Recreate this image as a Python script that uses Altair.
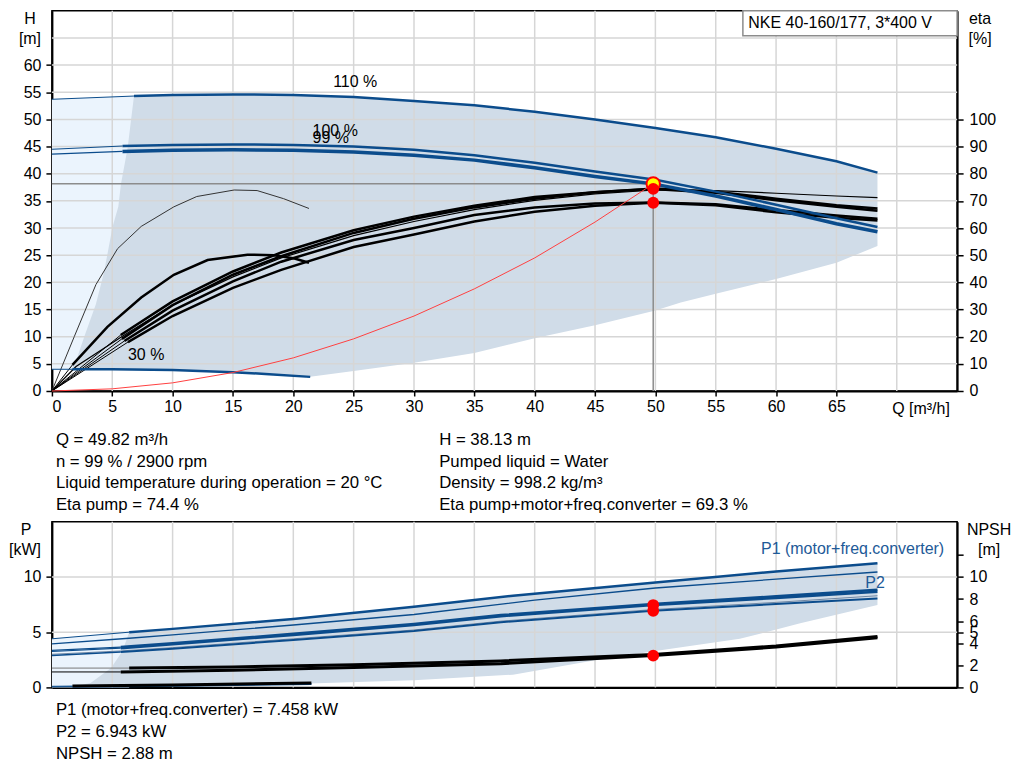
import altair as alt
import pandas as pd

# ---------------- colours / fonts ----------------
BLUE = "#0b4c8c"
GRAYAREA = "#d0dce8"
LIGHTAREA = "#ebf4fd"
GRID = "#d6d6d6"
OPLINE = "#8c8c8c"
RED = "#ff0000"
FONT = "Liberation Sans"

# ---------------- axes ----------------
X_TICKS = [0, 5, 10, 15, 20, 25, 30, 35, 40, 45, 50, 55, 60, 65]
X_GRID = [5, 10, 15, 20, 25, 30, 35, 40, 45, 50, 55, 60, 65, 70]
H_TICKS = [0, 5, 10, 15, 20, 25, 30, 35, 40, 45, 50, 55, 60]
H_GRID = [5, 10, 15, 20, 25, 30, 35, 40, 45, 50, 55, 60, 65]
ETA_TICKS = [0, 10, 20, 30, 40, 50, 60, 70, 80, 90, 100]
P_TICKS = [0, 5, 10]
P_GRID = [5, 10]
NPSH_TICKS = [0, 2, 4, 5, 6, 8, 10, 12]

# ---------------- operating point ----------------
Q_OP = 49.82
H_OP = 38.13
ETA_PUMP = 74.4
ETA_TOT = 69.3
P1_OP = 7.458
P2_OP = 6.943
NPSH_OP = 2.88

# ---------------- head curves [m] ----------------
Q_110 = [0, 6.8, 10, 15, 20, 25, 30, 35, 40, 45, 50, 55, 60, 65, 68.4]
H_110 = [53.7, 54.3, 54.5, 54.6, 54.5, 54.1, 53.4, 52.6, 51.4, 50.0, 48.4, 46.7, 44.6, 42.3, 40.2]
Q_100 = [0, 5.85, 10, 15, 20, 25, 30, 35, 40, 45, 50, 55, 60, 65, 68.4]
H_100 = [44.5, 45.1, 45.3, 45.4, 45.3, 45.0, 44.4, 43.4, 42.0, 40.4, 38.9, 36.7, 34.3, 31.8, 30.2]
Q_99 = [0, 5.85, 10, 15, 20, 25, 30, 35, 40, 45, 49.82, 55, 60, 65, 68.4]
H_99 = [43.6, 44.1, 44.3, 44.4, 44.3, 44.0, 43.4, 42.5, 41.1, 39.5, 38.13, 35.9, 33.4, 30.8, 29.3]
Q_30 = [0, 1.7, 5, 10, 15, 18, 21.4]
H_30 = [4.0, 4.0, 4.0, 3.85, 3.45, 3.1, 2.6]

# system curve
Q_SYS = [0, 5, 10, 15, 20, 25, 30, 35, 40, 45, 49.82]
H_SYS = [0, 0.4, 1.5, 3.4, 6.1, 9.6, 13.8, 18.8, 24.5, 31.1, 38.13]

# ---------------- efficiency curves [%] ----------------
Q_EA = [0, 1.85, 3.65, 5.44, 7.4, 10.1, 12, 15.1, 17, 19.2, 21.3]
E_EA = [0, 20, 39.2, 52.4, 60.6, 67.8, 71.6, 74.0, 73.8, 70.8, 67.2]
Q_EB = [0, 1.7, 4.6, 7.4, 10.1, 12.9, 16.2, 18.4, 20.1, 21.3]
E_EB = [0, 9.6, 23.6, 34.4, 42.8, 48.2, 50.2, 50.0, 48.8, 47.2]
Q_ET = [0, 2, 6, 10, 15, 19, 25, 30, 35, 40, 45, 50, 55, 60, 65, 68.4]
E_ET = [0, 9, 20.6, 31.6, 42, 49, 57.2, 62.4, 66.8, 70.2, 72.6, 74, 73.8, 72.8, 71.8, 71.2]
Q_E1 = [0, 5.7, 10, 15, 19, 25, 30, 35, 40, 45, 50, 55, 60, 65, 68.4]
E_E1 = [0, 20.6, 33, 44, 51, 59.2, 64.2, 68.2, 71.4, 73.2, 74.6, 73.4, 70.8, 68.4, 67.2]
Q_E2 = [0, 5.8, 10, 15, 19, 25, 30, 35, 40, 45, 49.82, 55, 60, 65, 68.4]
E_E2 = [0, 19.2, 31.6, 42.8, 49.6, 58.2, 63.4, 67.6, 70.8, 73.2, 74.4, 73.0, 70.2, 67.8, 66.4]
Q_E3 = [0, 6, 10, 15, 19, 25, 30, 35, 40, 45, 50, 55, 60, 65, 68.4]
E_E3 = [0, 18.4, 29.6, 40.4, 47.6, 55.6, 60, 64.8, 67.6, 69, 69.4, 68.8, 66.6, 64.6, 63.4]
Q_E4 = [0, 6.3, 10, 15, 19, 25, 30, 35, 40, 45, 49.82, 55, 60, 65, 68.4]
E_E4 = [0, 18, 27.6, 38, 44.6, 53, 57.6, 62.4, 66, 68.2, 69.3, 68.4, 65.8, 63.8, 62.8]

# ---------------- operating ranges (top) ----------------
Q_LIGHT = [0, 6.8]
HI_LIGHT = [53.7, 54.3]
LO_LIGHT = [4.0, 4.0]
Q_GRAY = [1.7, 2.13, 2.68, 3.65, 4.33, 5.03, 5.5, 5.72, 6.27, 6.8, 10, 15, 20, 21.4,
          25, 30, 35, 40, 45, 50, 52.1, 55, 60, 65, 68.4]
HI_GRAY = [4.3, 6.4, 10, 16, 22, 30.3, 33.9, 38.1, 44.7, 54.3, 54.5, 54.6, 54.5, 54.4,
           54.1, 53.4, 52.6, 51.4, 50.0, 48.4, 47.6, 46.7, 44.6, 42.3, 40.2]
LO_GRAY = [4.0, 4.0, 4.0, 4.0, 4.0, 4.0, 4.0, 4.0, 4.0, 4.0, 3.85, 3.45, 2.85, 2.6,
           3.7, 5.2, 7.0, 9.7, 12.1, 14.8, 16.3, 17.9, 20.6, 23.6, 26.7]

# ---------------- power / NPSH curves ----------------
Q_P1_110 = [0, 6.4, 10, 20, 30, 38.2, 50, 60, 68.4]
P_P1_110 = [4.4, 5.0, 5.3, 6.2, 7.3, 8.3, 9.5, 10.5, 11.25]
Q_P2_110 = [0, 6.4, 10, 20, 30, 40, 50, 60, 68.4]
P_P2_110 = [3.95, 4.45, 4.75, 5.65, 6.6, 7.9, 9.0, 9.8, 10.45]
Q_P = [0, 5.7, 10, 20, 30, 37.2, 49.82, 60, 68.4]
P_P1_100 = [3.35, 3.65, 4.0, 4.85, 5.75, 6.55, 7.55, 8.25, 8.85]
P_P1_99 = [3.25, 3.55, 3.9, 4.75, 5.65, 6.45, 7.458, 8.1, 8.65]
P_P2_100 = [3.0, 3.3, 3.6, 4.4, 5.2, 6.0, 7.05, 7.7, 8.3]
P_P2_99 = [2.9, 3.2, 3.5, 4.3, 5.1, 5.9, 6.943, 7.55, 8.05]
Q_N100 = [0, 6.4, 15, 25, 37.2, 49.82, 60, 68.4]
N_100 = [1.75, 1.75, 1.85, 2.05, 2.4, 2.98, 3.75, 4.6]
Q_N99 = [0, 5.7, 15, 25, 37.2, 49.82, 60, 68.4]
N_99 = [1.4, 1.4, 1.55, 1.8, 2.15, 2.88, 3.65, 4.5]
Q_LOW = [0, 1.7, 10, 21.5]
P_LOW_BLUE = [0.05, 0.07, 0.15, 0.3]
P_LOW_BLACK = [0.1, 0.12, 0.22, 0.4]

Q_LIGHT_B = [0, 6.4]
HI_LIGHT_B = [4.4, 5.0]
LO_LIGHT_B = [0, 0]
Q_GRAY_B = [1.7, 3.2, 4.9, 5.85, 6.4, 10, 20, 30, 38.2, 45, 50, 57, 62, 68.4]
HI_GRAY_B = [0.05, 0.4, 1.75, 3.3, 5.0, 5.3, 6.2, 7.3, 8.3, 9.0, 9.5, 10.2, 10.65, 11.25]
LO_GRAY_B = [0.0, 0.0, 0.02, 0.03, 0.04, 0.1, 0.3, 0.65, 1.15, 2.45, 3.3, 4.4, 5.8, 7.45]

# ---------------- texts ----------------
CURVE_LABELS = ["110 %", "100 %", "99 %", "30 %"]
LABEL_Q = [23.3, 21.6, 21.6, 6.3]
LABEL_H = [56.9, 47.8, 46.6, 6.7]
BOX_Q = [57.25, 75]
BOX_H = [65.4, 70]
BOX_TEXT = "NKE 40-160/177, 3*400 V"
INFO_LEFT = ["Q = 49.82 m³/h", "n = 99 % / 2900 rpm",
             "Liquid temperature during operation = 20 °C", "Eta pump = 74.4 %"]
INFO_RIGHT = ["H = 38.13 m", "Pumped liquid = Water", "Density = 998.2 kg/m³",
              "Eta pump+motor+freq.converter = 69.3 %"]
INFO_BOTTOM = ["P1 (motor+freq.converter) = 7.458 kW", "P2 = 6.943 kW", "NPSH = 2.88 m"]

W = 907
H_TOP = 381
H_BOT = 166
LAB = 16

XS = alt.Scale(domain=[0, 75], nice=False, zero=False)
HS = alt.Scale(domain=[0, 70], nice=False, zero=False)
PS = alt.Scale(domain=[0, 15], nice=False, zero=False)

TOP = dict(
    ys=HS,
    xa=alt.Axis(values=X_TICKS, title=None, tickSize=5, labelPadding=3, grid=False, labelOverlap=False),
    ya=alt.Axis(values=H_TICKS, title=None, orient="left", tickSize=6, labelPadding=5, grid=False,
                labelOverlap=False),
)
BOT = dict(
    ys=PS,
    xa=alt.Axis(labels=False, ticks=False, title=None, grid=False),
    ya=alt.Axis(values=P_TICKS, title=None, orient="left", tickSize=6, labelPadding=5, grid=False,
                labelOverlap=False),
)


def X(ctx, f="Q"):
    return alt.X(f"{f}:Q", scale=XS, axis=ctx["xa"])


def Y(ctx, f):
    return alt.Y(f"{f}:Q", scale=ctx["ys"], axis=ctx["ya"])


def area(ctx, Q, hi, lo, color):
    df = pd.DataFrame({"Q": Q, "hi": hi, "lo": lo})
    return alt.Chart(df).mark_area(color=color, opacity=1).encode(
        x=X(ctx), y=Y(ctx, "hi"), y2="lo:Q")


def line(ctx, Q, V, color, width, lo=None, hi=None, eta=False):
    df = pd.DataFrame({"Q": Q, "V": V})
    if lo is not None:
        df = df[df.Q >= lo]
    if hi is not None:
        df = df[df.Q <= hi]
    ch = alt.Chart(df)
    field = "V"
    if eta:
        ch = ch.transform_calculate(Hq="datum.V * 70 / 140")
        field = "Hq"
    return ch.mark_line(color=color, strokeWidth=width).encode(x=X(ctx), y=Y(ctx, field))


def split_line(ctx, Q, V, color, thin, thick, split, eta=False, thin_color=None):
    return [line(ctx, Q, V, thin_color or color, thin, hi=split, eta=eta),
            line(ctx, Q, V, color, thick, lo=split, eta=eta)]


def vgrid(ctx, vals):
    return alt.Chart(pd.DataFrame({"Q": vals})).mark_rule(color=GRID, strokeWidth=1.5).encode(x=X(ctx))


def hgrid(ctx, vals):
    return alt.Chart(pd.DataFrame({"V": vals})).mark_rule(color=GRID, strokeWidth=1.5).encode(y=Y(ctx, "V"))


def txt(text, x, y, size=16, align="center", color="black"):
    return alt.Chart(pd.DataFrame({"t": [text]})).mark_text(
        x=x, y=y, align=align, baseline="middle", fontSize=size, color=color, font=FONT
    ).encode(text="t:N")


# ================= top chart =================
T = TOP
top_layers = [
    area(T, Q_LIGHT, HI_LIGHT, LO_LIGHT, LIGHTAREA),
    area(T, Q_GRAY, HI_GRAY, LO_GRAY, GRAYAREA),
    vgrid(T, X_GRID),
    hgrid(T, H_GRID),
]

op_df = pd.DataFrame({"Q": [Q_OP], "H": [H_OP], "z": [0.0]})
top_layers += [
    alt.Chart(op_df).mark_rule(color=OPLINE, strokeWidth=1.5).encode(
        x=X(T, "z"), x2="Q:Q", y=Y(T, "H")),
    alt.Chart(op_df).mark_rule(color=OPLINE, strokeWidth=1.5).encode(
        x=X(T, "Q"), y=Y(T, "z"), y2="H:Q"),
]

# efficiency curves
top_layers.append(line(T, Q_EA, E_EA, "#333333", 1, eta=True))
top_layers += split_line(T, Q_EB, E_EB, "black", 1, 2.5, 1.7, eta=True)
top_layers.append(line(T, Q_ET, E_ET, "black", 1.2, eta=True))
top_layers += split_line(T, Q_E1, E_E1, "black", 1, 2.5, 5.7, eta=True)
top_layers += split_line(T, Q_E2, E_E2, "black", 1, 2.5, 5.8, eta=True)
top_layers += split_line(T, Q_E3, E_E3, "black", 1, 2.5, 6.0, eta=True)
top_layers += split_line(T, Q_E4, E_E4, "black", 1, 2.5, 6.3, eta=True)

# head curves
top_layers += split_line(T, Q_110, H_110, BLUE, 1, 2.5, 6.8)
top_layers += split_line(T, Q_100, H_100, BLUE, 1, 2.5, 5.85)
top_layers += split_line(T, Q_99, H_99, BLUE, 1.2, 3.5, 5.85)
top_layers += split_line(T, Q_30, H_30, BLUE, 1, 2.5, 1.7)

# system curve
top_layers.append(line(T, Q_SYS, H_SYS, "#ff4040", 1))

# operating points
top_layers.append(alt.Chart(op_df).mark_circle(
    fill="#ffff00", stroke=RED, strokeWidth=2, size=180, opacity=1).encode(x=X(T), y=Y(T, "H")))
eta_pts = pd.DataFrame({"Q": [Q_OP, Q_OP], "E": [ETA_PUMP, ETA_TOT]})
top_layers.append(alt.Chart(eta_pts).transform_calculate(Hq="datum.E * 70 / 140").mark_circle(
    color=RED, size=140, opacity=1).encode(x=X(T), y=Y(T, "Hq")))

# legend box
box_df = pd.DataFrame({"q1": [BOX_Q[0]], "q2": [BOX_Q[1]], "h1": [BOX_H[0]], "h2": [BOX_H[1]],
                       "t": [BOX_TEXT], "tq": [BOX_Q[0] + 0.45], "th": [(BOX_H[0] + BOX_H[1]) / 2]})
top_layers.append(alt.Chart(box_df).mark_rect(fill="white", stroke="#8c8c8c", strokeWidth=1.5).encode(
    x=X(T, "q1"), x2="q2:Q", y=Y(T, "h1"), y2="h2:Q"))
top_layers.append(alt.Chart(box_df).mark_text(align="left", baseline="middle", fontSize=16, font=FONT,
                                              color="black").encode(
    x=X(T, "tq"), y=Y(T, "th"), text="t:N"))

# curve labels
lab_df = pd.DataFrame({"Q": LABEL_Q, "H": LABEL_H, "t": CURVE_LABELS})
top_layers.append(alt.Chart(lab_df).mark_text(align="left", baseline="middle", fontSize=16, font=FONT,
                                              color="black").encode(
    x=X(T), y=Y(T, "H"), text="t:N"))

# axis titles and info texts
top_layers += [
    txt("H", -22, 8), txt("[m]", -22, 28),
    txt("eta", 930, 8), txt("[%]", 930, 28),
    txt("Q [m³/h]", 842, 399, size=16, align="left"),
]
for i, t in enumerate(INFO_LEFT):
    top_layers.append(txt(t, 4, 430 + i * 21.7, size=16.8, align="left"))
for i, t in enumerate(INFO_RIGHT):
    top_layers.append(txt(t, 388, 430 + i * 21.7, size=16.8, align="left"))

# carrier for the right-hand eta axis (a single invisible point at eta 0)
eta_axis = alt.Chart(pd.DataFrame({"E": [0]})).mark_point(opacity=0, size=1).encode(
    y=alt.Y("E:Q", scale=alt.Scale(domain=[0, 140], nice=False, zero=False),
            axis=alt.Axis(values=ETA_TICKS, title=None, orient="right", tickSize=6, labelPadding=6,
                          grid=False, labelOverlap=False)))

top = alt.layer(alt.layer(*top_layers), eta_axis).resolve_scale(y="independent").properties(
    width=W, height=H_TOP)

# ================= bottom chart =================
B = BOT
bot_layers = [
    area(B, Q_LIGHT_B, HI_LIGHT_B, LO_LIGHT_B, LIGHTAREA),
    area(B, Q_GRAY_B, HI_GRAY_B, LO_GRAY_B, GRAYAREA),
    vgrid(B, X_GRID),
    hgrid(B, P_GRID),
]
# NPSH
bot_layers += split_line(B, Q_N100, N_100, "black", 1, 3, 6.4, thin_color="#777777")
bot_layers += split_line(B, Q_N99, N_99, "black", 1, 3, 5.7)
# low speed
bot_layers += split_line(B, Q_LOW, P_LOW_BLUE, BLUE, 1, 2, 1.7)
bot_layers += split_line(B, Q_LOW, P_LOW_BLACK, "black", 1, 3, 1.7, thin_color=BLUE)
# power
bot_layers += split_line(B, Q_P1_110, P_P1_110, BLUE, 1, 2.5, 6.4)
bot_layers.append(line(B, Q_P2_110, P_P2_110, BLUE, 1.3))
bot_layers.append(line(B, Q_P, P_P2_100, "#6f87a3", 1))
bot_layers += split_line(B, Q_P, P_P2_99, BLUE, 1.5, 2, 5.7)
bot_layers += split_line(B, Q_P, P_P1_99, BLUE, 1.2, 2.5, 5.7)
bot_layers += split_line(B, Q_P, P_P1_100, BLUE, 1.2, 2.5, 5.7)

bot_pts = pd.DataFrame({"Q": [Q_OP, Q_OP, Q_OP], "V": [P1_OP, P2_OP, NPSH_OP]})
bot_layers.append(alt.Chart(bot_pts).mark_circle(color=RED, size=140, opacity=1).encode(
    x=X(B), y=Y(B, "V")))

bot_layers += [
    txt("P1 (motor+freq.converter)", 894, 27, size=16, align="right", color="#1e5a98"),
    txt("P2", 815, 61, size=16, align="left", color="#1e5a98"),
    txt("P", -26, 8), txt("[kW]", -43, 28, align="left"),
    txt("NPSH", 939, 8), txt("[m]", 939, 28),
]
for i, t in enumerate(INFO_BOTTOM):
    bot_layers.append(txt(t, 4, 189 + i * 22, size=16.8, align="left"))

npsh_axis = alt.Chart(pd.DataFrame({"N": [0]})).mark_point(opacity=0, size=1).encode(
    y=alt.Y("N:Q", scale=alt.Scale(domain=[0, 15], nice=False, zero=False),
            axis=alt.Axis(values=NPSH_TICKS, title=None, orient="right", tickSize=6, labelPadding=6,
                          grid=False, labelOverlap=False,
                          labelExpr="datum.value == 12 ? '' : datum.label")))

bottom = alt.layer(alt.layer(*bot_layers), npsh_axis).resolve_scale(y="independent").properties(
    width=W, height=H_BOT)

chart = alt.vconcat(top, bottom, spacing=131, bounds="flush").properties(
    padding={"left": 0, "top": 0, "right": 4, "bottom": 4}
).configure_view(stroke="black", strokeWidth=1.5).configure_axis(
    domainColor="black", domainWidth=2, tickColor="black", tickWidth=1.5,
    labelFont=FONT, labelFontSize=LAB, labelColor="black", grid=False
)

chart.save("out.html", embed_options={"renderer": "svg", "actions": False})
